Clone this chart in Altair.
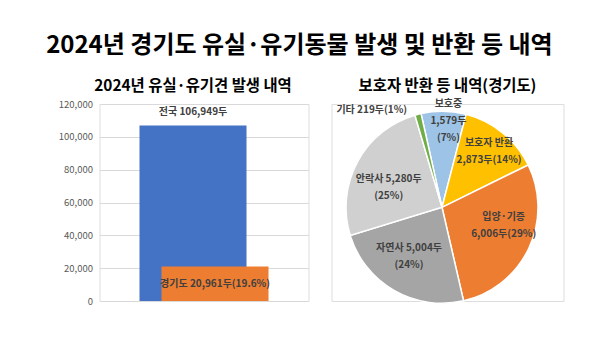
import math
import altair as alt
import pandas as pd

# ---- data ----
bar_names = ["전국", "경기도"]
bar_values = [106949, 20961]
bar_labels = ["전국 106,949두", "경기도 20,961두(19.6%)"]
y_ticks = [0, 20000, 40000, 60000, 80000, 100000, 120000]

pie_names = ["보호중", "보호자 반환", "입양·기증", "자연사", "안락사", "기타"]
pie_values = [1579, 2873, 6006, 5004, 5280, 219]
pie_labels = [
    "보호중\n1,579두\n(7%)",
    "보호자 반환\n2,873두(14%)",
    "입양·기증\n6,006두(29%)",
    "자연사 5,004두\n(24%)",
    "안락사 5,280두\n(25%)",
    "기타 219두(1%)",
]
pie_colors = ["#9DC3E6", "#FFC000", "#ED7D31", "#A5A5A5", "#D0D0D0", "#70AD47"]

FONT = "Noto Sans CJK KR"
TEXT_COLOR = "#404040"

# ---- bar chart ----
bar_df = pd.DataFrame({"name": bar_names, "value": bar_values, "label": bar_labels,
                       "group": ["2024"] * len(bar_names)})

bar_base = alt.Chart(bar_df).encode(
    x=alt.X("group:N", axis=None, scale=alt.Scale(paddingInner=0, paddingOuter=0)),
    y=alt.Y("value:Q", scale=alt.Scale(domain=[0, 120000]),
            axis=alt.Axis(values=y_ticks, format=",d", title=None, domain=False, ticks=False,
                          labelColor="#595959", labelFontSize=9.5, labelFont=FONT,
                          labelPadding=7, gridColor="#D9D9D9", gridWidth=1)),
)

blue = bar_base.transform_filter(alt.datum.name == "전국").mark_bar(
    size=107, xOffset=-11, color="#4472C4")
orange = bar_base.transform_filter(alt.datum.name == "경기도").mark_bar(
    size=107, xOffset=11, color="#ED7D31")
blue_txt = bar_base.transform_filter(alt.datum.name == "전국").mark_text(
    xOffset=-11, dy=-13, font=FONT, fontSize=10, fontWeight="bold", color=TEXT_COLOR
).encode(text="label:N")
orange_txt = bar_base.transform_filter(alt.datum.name == "경기도").mark_text(
    xOffset=11, dy=17, font=FONT, fontSize=10, fontWeight="bold", color=TEXT_COLOR
).encode(text="label:N")

left = alt.layer(blue, orange, blue_txt, orange_txt).properties(
    width=209, height=197,
    title=alt.TitleParams("2024년 유실·유기견 발생 내역", font=FONT, fontSize=15.4,
                          fontWeight="bold", color="#000000", anchor="middle", dx=-11, offset=4.5),
)

# ---- pie chart ----
total = sum(pie_values)
pie_df = pd.DataFrame({"name": pie_names, "value": pie_values, "label": pie_labels,
                       "order": list(range(len(pie_names)))})

start = math.radians(-12.6)
theta_scale = alt.Scale(domain=[0, total], range=[start, start + 2 * math.pi])
CX, CY = 110.5, 103.3
LH = 17

pie_base = alt.Chart(pie_df)

arcs = pie_base.mark_arc(outerRadius=96, stroke="white", strokeWidth=1.5).encode(
    theta=alt.Theta("value:Q", stack=True, scale=theta_scale),
    order=alt.Order("order:Q"),
    color=alt.Color("name:N", scale=alt.Scale(domain=pie_names, range=pie_colors), legend=None),
    x=alt.value(CX), y=alt.value(CY),
)

# (radius, dx, dy of the block centre, number of lines)
label_style = {
    "보호중": (86, 5, 0, 3),
    "보호자 반환": (76, -1, 3, 2),
    "입양·기증": (65, 3, -10, 2),
    "자연사": (56, -5, 1, 2),
    "안락사": (56, -4, 7, 2),
    "기타": (121, -40, 20, 1),
}

mid_base = pie_base.transform_window(
    cum="sum(value)", sort=[alt.SortField("order")]
).transform_calculate(mid="datum.cum - datum.value / 2")

label_layers = []
for name, (r, dx, dy, n) in label_style.items():
    label_layers.append(
        mid_base.transform_filter(alt.datum.name == name).mark_text(
            font=FONT, fontSize=10, fontWeight="bold", color=TEXT_COLOR,
            lineBreak="\n", lineHeight=LH, align="center", baseline="middle",
            radius=r, dx=dx, dy=dy - (n - 1) * LH / 2,
        ).encode(
            theta=alt.Theta("mid:Q", scale=theta_scale),
            text="label:N",
            x=alt.value(CX), y=alt.value(CY),
        )
    )

right = alt.layer(arcs, *label_layers).properties(
    width=232, height=197,
    title=alt.TitleParams("보호자 반환 등 내역(경기도)", font=FONT, fontSize=15.4,
                          fontWeight="bold", color="#000000", anchor="middle", offset=4.5),
)

chart = alt.hconcat(left, right, spacing=23, bounds="flush").properties(
    title=alt.TitleParams("2024년 경기도 유실·유기동물 발생 및 반환 등 내역", font=FONT,
                          fontSize=24, fontWeight="bold", color="#000000", anchor="middle",
                          offset=21, dx=-11.5),
    padding={"left": 45.5, "top": 33, "right": 5, "bottom": 5},
).configure_view(stroke=None).configure(background="white")

chart.save("out.html", embed_options={"renderer": "svg", "actions": False})
